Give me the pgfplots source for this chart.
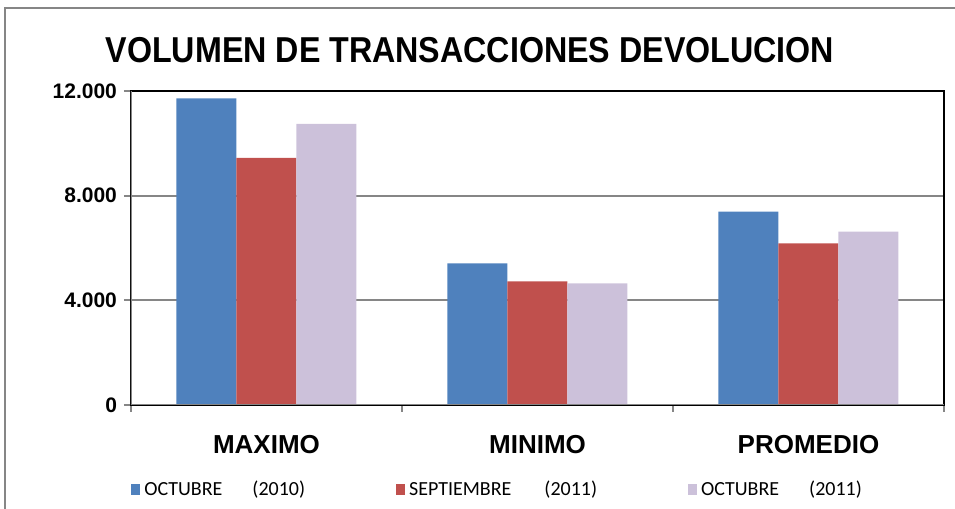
\documentclass[border=0pt]{standalone}
\usepackage{fontspec}
\setmainfont{Liberation Sans}
\newfontfamily\legfont{Carlito}
\usepackage{pgfplots}
\pgfplotsset{compat=1.18}
\definecolor{cBlue}{RGB}{79,129,189}
\definecolor{cRed}{RGB}{192,80,77}
\definecolor{cLav}{RGB}{204,193,218}
\definecolor{cGrid}{RGB}{134,134,134}
\begin{document}
\begin{tikzpicture}[x=0.5pt,y=0.5pt]
\path[use as bounding box] (0,0) rectangle (955,509);
\draw[cGrid, line width=1pt] (5,0) -- (5,501) -- (955,501);
\node[font=\fontsize{18}{20}\selectfont\bfseries] at (470,459) {\scalebox{0.895}[1]{VOLUMEN DE TRANSACCIONES DEVOLUCION}};
\begin{axis}[
  at={(65.5pt,52pt)}, anchor=south west, scale only axis,
  width=406.5pt, height=157pt,
  xmin=-0.5, xmax=2.5, ymin=0, ymax=12000,
  ybar=0pt, bar width=30pt,
  xtick={-0.5,0.5,1.5,2.5},
  x tick label as interval,
  xticklabels={MAXIMO,MINIMO,PROMEDIO,},
  ytick={0,4000,8000,12000},
  xtick pos=bottom, ytick pos=left,
  tick align=outside, major tick length=3.5pt,
  tick style={cGrid, line width=1pt},
  ymajorgrids, grid style={cGrid, line width=1pt},
  axis line style={black, line width=1pt},
  scaled y ticks=false,
  yticklabel style={font=\bfseries\fontsize{10.5}{12}\selectfont, /pgf/number format/.cd, 1000 sep={.}, assume math mode=true},
  xticklabel style={font=\bfseries\fontsize{13}{15}\selectfont, yshift=-8pt},
  legend image code/.code={\fill[#1] (0pt,-2.75pt) rectangle (4.5pt,2.75pt);},
  legend columns=3,
  legend style={at={(0.0,-0.27)}, anchor=west, draw=none, fill=none, inner sep=0pt,
    font=\legfont\fontsize{10}{12}\selectfont,
    /tikz/every even column/.append style={column sep=43.5pt}},
]
\addplot[fill=cBlue, draw=none] coordinates {(0,11720) (1,5415) (2,7387)};
\addlegendentry{OCTUBRE\hspace{15pt}(2010)}
\addplot[fill=cRed, draw=none] coordinates {(0,9440) (1,4727) (2,6178)};
\addlegendentry{SEPTIEMBRE\hspace{16.5pt}(2011)}
\addplot[fill=cLav, draw=none] coordinates {(0,10740) (1,4650) (2,6623)};
\addlegendentry{OCTUBRE\hspace{15pt}(2011)}
\draw[cGrid, line width=1pt] (rel axis cs:0,1) -- (rel axis cs:0,0) -- (rel axis cs:1,0);
\end{axis}
\end{tikzpicture}
\end{document}
